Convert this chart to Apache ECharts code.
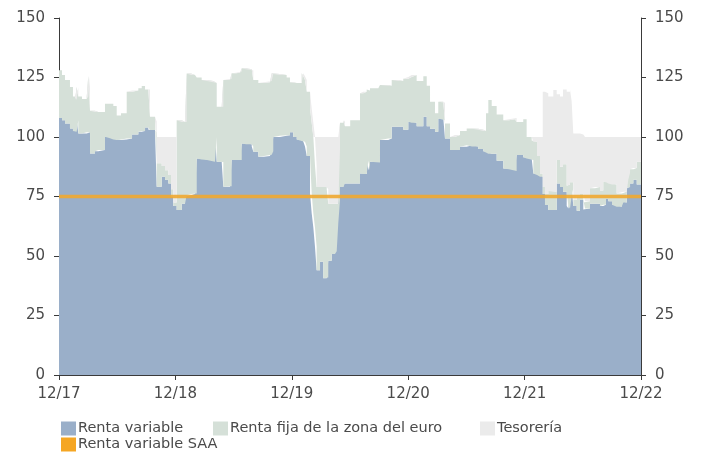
<!DOCTYPE html>
<html>
<head>
<meta charset="utf-8">
<script src="https://cdn.jsdelivr.net/npm/echarts@6/dist/echarts.min.js"></script>
<style>
html,body{margin:0;padding:0;background:#fff;}
#chart{width:701px;height:457px;}
</style>
</head>
<body>
<div id="chart"></div>
<script>
// x positions: months since Dec 2017
var months = [
0,0.31,0.62,1.13,1.44,1.65,1.82,1.99,2.37,2.86,
3.02,3.20,3.71,4.05,4.74,5.26,5.60,5.95,6.39,6.98,
7.53,8.18,8.53,8.87,9.21,9.38,9.90,10.07,10.59,10.93,
11.27,11.55,11.78,12.13,12.65,12.99,13.16,13.61,14.02,14.20,
14.71,15.26,15.91,16.08,16.26,16.77,16.94,17.63,17.80,18.25,
18.66,18.84,19.28,19.87,20.03,20.55,21.13,21.75,21.93,22.09,
22.78,23.47,23.81,24.15,24.51,25.02,25.19,25.36,25.54,25.88,
26.05,26.22,26.39,26.56,26.91,27.25,27.60,27.76,28.11,28.45,
28.63,28.79,28.97,29.31,29.48,30.02,30.69,31.03,31.37,31.72,
31.89,32.06,32.92,33.09,33.95,34.30,34.98,35.49,36.01,36.36,
36.87,37.56,37.91,38.25,38.76,39.10,39.62,39.79,40.31,40.82,
41.34,42.03,42.58,43.22,43.74,44.02,44.26,44.61,45.12,45.80,
46.39,47.01,47.18,47.86,48.21,48.73,48.90,49.28,49.59,49.87,
50.10,50.44,50.96,51.31,51.65,51.96,52.34,52.51,52.68,52.85,
53.02,53.37,53.71,54.05,54.23,54.74,55.26,55.77,56.11,56.39,
56.63,57.01,57.49,58.01,58.18,58.53,58.69,58.87,59.21,59.56,60
];
var rentaVariable = [
108,107,105.7,103.6,102.5,102.2,107,101.5,101.5,102,
102,93.1,94,94.5,100.1,99.5,99,98.7,99,99.4,
101,102.2,102.5,104,103,102.9,102,79.1,83.3,82,
80.5,75,71,69.3,72,75,75.5,76,76.3,91,
90.5,90.3,89.6,100,89.6,89.5,79.1,79.3,90.3,90.3,
90.3,97.3,97,96,93.8,91.7,92,92.5,94,100,
100.5,100.7,102,100,99,98.3,98,96,92,76.3,
68,62,53.9,44,47.6,40.7,41,48,50.8,52,
63.7,73.5,79,80.5,80.5,80.5,80.5,84.7,84.5,90,
86,89.6,89.3,98.7,99.4,104.3,104.3,103,106.4,106,
104.5,108.5,104.5,103.5,102.2,107.8,107,99.4,94.5,94.5,
95.9,96.5,96,95,94,93.5,93,93,90,86.8,
86.5,85.7,92.4,91.5,91,90.3,84.7,84,83.3,76,
71.4,69.3,69.3,80.5,79,77,71,70,75,78.6,
71,69,73.5,69.5,70,72,72,71,71.5,74,
73,71.5,70.7,73,72.5,78.6,79,80.5,82,80,80.2
];
var rentaFija = [
20,19,18.3,17.4,14.5,13.3,14,15.5,14.5,15,
23.6,17.9,16.5,16,13.9,14.5,14,10.3,11,19.6,
18.5,18.3,18.9,16,17,5.6,4.5,9.9,4.5,4,
3.5,3,1.5,37.7,34.3,31.3,51.2,50,49.2,34,
33.5,33.2,33.4,22.7,23.1,23.2,44.9,45.2,36.5,36.7,
37.2,31.6,31.5,32,30.2,31,31,31,32.8,26.5,
25.5,24.3,21,22.7,23.7,28.5,27.5,28,27,35.7,
38,38,34.1,35,31.4,38.3,37,24,21.2,20,
8.3,21.5,27,26.5,24,26.5,26.5,33.7,34.5,30,
33.5,30.9,31.7,23.1,22.1,19.7,19.2,21.5,18.8,20,
19,17,17,11.3,7.8,7,7.5,6.3,5.5,6.3,
6.6,7.1,7.5,8,8.5,16.5,22.5,20,19.5,20.2,
21,22.3,13.9,16,9,8.2,13.3,8,1.4,3,
4.6,8,7.7,9.8,8.5,11.5,8.5,10,6,2.4,
2.5,6,2.5,3,3,6.5,7,6.5,9.7,7,
7.5,8.5,5.6,4,4.5,3.4,6,6,5,9.6,5.8
];
var tesoreria = [
0,0,0,0,0,0,0,0,0,0,
0,0,0,0,0,0,0,0,0,0,
0,0,0,0,0,0,0,11,12.2,14,
16,22,27.5,0,0,0,0,0,0,0,
0,0,0,0,0,0,0,0,0,0,
0,0,0,0,0,0,0,0,0,0,
0,0,0,0,0,0,0,0,0,0,
0,0,12,21,21,21,22,28,28,28,
28,5,0,0,0,0,0,0,0,0,
0,0,0,0,0,0,0,0,0,0,
0,0,0,0,0,0,0,0,0,0,
0,0,0,0,0,0,0,0,0,0,
0,0,0,0,0,1.5,2,8,15.3,40,
42.4,39.7,42.8,27.7,29.5,31.5,39.5,39,39,34,
28,26.5,25,28.5,27,21.5,21,22.5,18.8,19,
19.5,20,23.7,23,23,18,15,13.5,13,10.4,14
];
var saaMonths = [0, 60];
var saaValues = [75, 75];
var xTickLabels = ['12/17','12/18','12/19','12/20','12/21','12/22'];
var seriesNames = ['Renta variable','Renta fija de la zona del euro','Tesorería','Renta variable SAA'];

// value first, month second (so that the value dimension is the one stacked)
function pairs(xs, ys){ return xs.map(function(x,i){ return [ys[i], x]; }); }

var FONT = 'DejaVu Sans';
var TXT = '#4a4a4a';
var AX = '#3a3a3a';

function yAxisDef(pos){
  return {
    type:'value', position:pos, min:0, max:150, interval:25,
    axisLine:{show:true, lineStyle:{color:AX, width:1}},
    axisTick:{show:true, length:5, lineStyle:{color:AX}},
    splitLine:{show:false},
    axisLabel:{color:TXT, fontFamily:FONT, fontSize:15, margin:14}
  };
}
function legendDef(name, left, top){
  return {
    data:[name], left:left, top:top, orient:'horizontal',
    icon:'rect', itemWidth:15, itemHeight:14, itemGap:0,
    padding:0, selectedMode:false,
    textStyle:{color:TXT, fontFamily:FONT, fontSize:14.5, padding:[0,0,0,-3]}
  };
}
function areaSeries(i, vals, col){
  return {name:seriesNames[i], type:'line', stack:'total', step:'end', symbol:'none',
    encode:{x:1, y:0}, data:pairs(months, vals), color:col,
    lineStyle:{width:0}, areaStyle:{color:col, opacity:1}};
}

var chart = echarts.init(document.getElementById('chart'), null, {renderer:'canvas'});
chart.setOption({
  animation:false,
  backgroundColor:'#ffffff',
  grid:{left:59, right:60, top:18, bottom:82, containLabel:false, outerBoundsMode:'none'},
  legend:[
    legendDef(seriesNames[0], 61, 421),
    legendDef(seriesNames[1], 213, 421),
    legendDef(seriesNames[2], 480, 421),
    legendDef(seriesNames[3], 61, 437)
  ],
  xAxis:{
    type:'value', min:0, max:60, interval:12,
    axisLine:{show:true, onZero:false, lineStyle:{color:AX, width:1}},
    axisTick:{show:true, length:5, lineStyle:{color:AX}},
    splitLine:{show:false},
    axisLabel:{color:TXT, fontFamily:FONT, fontSize:15, margin:12,
      formatter:function(v){ return xTickLabels[Math.round(v/12)]; }}
  },
  yAxis:[yAxisDef('left'), yAxisDef('right')],
  series:[
    areaSeries(0, rentaVariable, '#9AAFC9'),
    areaSeries(1, rentaFija, '#D5E0D8'),
    areaSeries(2, tesoreria, '#EBEBEB'),
    {name:seriesNames[3], type:'line', symbol:'none', z:5,
     encode:{x:1, y:0}, data:pairs(saaMonths, saaValues),
     itemStyle:{color:'#F5A623'},
     lineStyle:{color:'#F0A830', width:3.5, opacity:0.9}}
  ]
});
</script>
</body>
</html>
